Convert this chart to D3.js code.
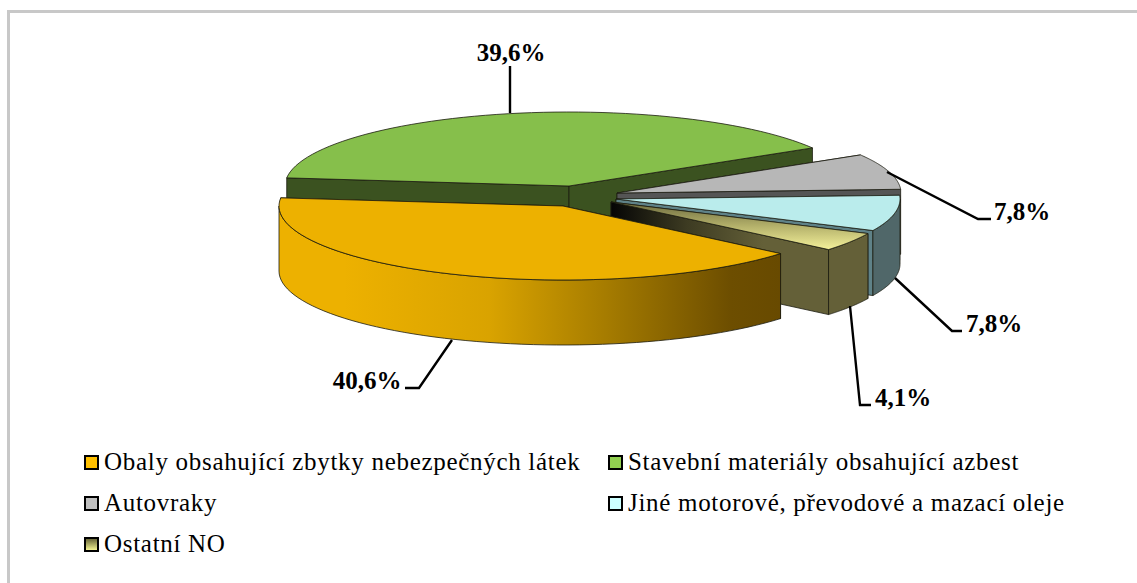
<!DOCTYPE html>
<html>
<head>
<meta charset="UTF-8">
<title>Nebezpečné odpady</title>
<style>
	html, body { margin: 0; background: #fff; }
	svg { display: block; }
	text { font-family: "Liberation Serif", serif; fill: #000; }
	.label { font-size: 25px; font-weight: bold; }
	.legend { font-size: 25px; letter-spacing: 0.7px; }
</style>
</head>
<body>
<script src="https://cdn.jsdelivr.net/npm/d3@7"></script>
<script>
const categories = ["Obaly obsahující zbytky nebezpečných látek", "Stavební materiály obsahující azbest", "Autovraky", "Jiné motorové, převodové a mazací oleje", "Ostatní NO"]
const values = [40.6, 39.6, 7.8, 7.8, 4.1]
const valueLabels = ["40,6%", "39,6%", "7,8%", "7,8%", "4,1%"]

// colours per slice
const topColors = ["#edb100", "#86bf4b", "#b7b7b7", "#baecec", "#f1ee94"]
const wallColors = ["#edb100", "#3b5220", "#595959", "#506769", "#646038"]
const cutColors = ["#6a4b00", "#3b5220", "#555555", "#5f8288", "#646038"]
const legendColors = ["#ffc000", "#92d050", "#bfbfbf", "#ccffff", "#ffff99"]

// exploded slice apexes, top face
const apexX = [563, 569, 617, 616, 611]
const apexY = [206, 186, 193, 199, 202]
const rx = 284, ry = 74, depth = 65

// leader lines and label spots
const leaders = [
	[[452, 340], [419, 388], [405, 388]],
	[[510, 113], [510, 66]],
	[[887, 172], [978, 219], [991, 219]],
	[[895, 278], [952, 331], [962, 331]],
	[[850, 306], [860, 405], [871, 405]]
]
const labelX = [367, 511, 1022, 994, 903]
const labelY = [389, 61, 220, 332, 406]

const legendX = [84, 608, 84, 608, 84]
const legendY = [455, 455, 496, 496, 537]

const width = 1137, height = 583

const svg = d3.select("body").append("svg").attr("width", width).attr("height", height)
const defs = svg.append("defs")

// frame, only top and left show up in the picture
svg.append("path").attr("d", "M8.5,583V11.5H1137").attr("fill", "none").attr("stroke", "#c8c8c8").attr("stroke-width", 3)

function gradient(id, x1, y1, x2, y2, stops) {
	const g = defs.append("linearGradient").attr("id", id)
		.attr("x1", x1).attr("y1", y1).attr("x2", x2).attr("y2", y2)
	stops.forEach(s => g.append("stop").attr("offset", s[0]).attr("stop-color", s[1]))
	return "url(#" + id + ")"
}

// shaded faces
const orangeWall = gradient("orangeWall", 0, 0, 1, 0, [[0, "#edb100"], [0.13, "#edb100"], [0.42, "#d9a300"], [0.65, "#a67c00"], [0.9, "#6d4e00"], [1, "#684a00"]])
const yellowCut = gradient("yellowCut", 0, 0, 1, 0, [[0, "#050505"], [0.35, "#3d3b22"], [0.7, "#646038"], [1, "#646038"]])
const yellowTop = gradient("yellowTop", 0, 0, 0, 1, [[0, "#6c6a3e"], [0.5, "#b3b06a"], [1, "#f4f19a"]])
const legendYellow = gradient("legendYellow", 0, 0, 0, 1, [[0, "#5d5b30"], [1, "#ffff99"]])

const tau = 2 * Math.PI
const pie = d3.pie().sort(null).startAngle(130 * Math.PI / 180).endAngle((130 + 360) * Math.PI / 180)
const slices = pie(values)

const lineGen = d3.line()
const xOff = d3.scaleLinear().domain([-1, 1]).range([-rx, rx])
const yOff = d3.scaleLinear().domain([-1, 1]).range([-ry, ry])

function rimPoint(i, a, dy) {
	return [apexX[i] + xOff(Math.sin(a)), apexY[i] - yOff(Math.cos(a)) + dy]
}
function rim(i, a0, a1, dy) {
	const n = 60
	return d3.range(n + 1).map(k => rimPoint(i, a0 + (a1 - a0) * k / n, dy))
}

// paint back to front, orange goes last since it sits in front
const order = [1, 2, 3, 4, 0]
order.forEach(i => {
	const s = slices[i]
	const g = svg.append("g")
	const apex = [apexX[i], apexY[i]]
	const apexLow = [apexX[i], apexY[i] + depth]
	const edge = "#1c1c10"

	// both cuts, the hidden one ends up under the wall and the top
	const cut = [s.startAngle, s.endAngle]
	cut.forEach(a => {
		g.append("path")
			.attr("d", lineGen([apex, rimPoint(i, a, 0), rimPoint(i, a, depth), apexLow]) + "Z")
			.attr("fill", i == 4 ? yellowCut : cutColors[i])
			.attr("stroke", edge).attr("stroke-width", 0.8)
	})

	// outer wall, front half only
	const shift = s.startAngle >= tau ? tau : 0
	const a0 = Math.max(s.startAngle - shift, Math.PI / 2)
	const a1 = Math.min(s.endAngle - shift, 3 * Math.PI / 2)
	if (a1 > a0) {
		const wall = rim(i, a0, a1, 0).concat(rim(i, a1, a0, depth))
		g.append("path")
			.attr("d", lineGen(wall) + "Z")
			.attr("fill", i == 0 ? orangeWall : wallColors[i])
			.attr("stroke", edge).attr("stroke-width", 0.8)
	}

	// top face
	const face = [apex].concat(rim(i, s.startAngle, s.endAngle, 0))
	g.append("path")
		.attr("d", lineGen(face) + "Z")
		.attr("fill", i == 4 ? yellowTop : topColors[i])
		.attr("stroke", edge).attr("stroke-width", 0.8)
})

// leaders
leaders.forEach(pts => {
	svg.append("path").attr("d", lineGen(pts)).attr("fill", "none")
		.attr("stroke", "#000").attr("stroke-width", 2.4)
})

// value labels
valueLabels.forEach((t, i) => {
	svg.append("text").attr("class", "label")
		.attr("x", labelX[i]).attr("y", labelY[i])
		.attr("text-anchor", "middle").text(t)
})

// legend
categories.forEach((c, i) => {
	svg.append("rect")
		.attr("x", legendX[i] + 1).attr("y", legendY[i] + 1)
		.attr("width", 13).attr("height", 13)
		.attr("fill", i == 4 ? legendYellow : legendColors[i])
		.attr("stroke", "#000").attr("stroke-width", 2)
	svg.append("text").attr("class", "legend")
		.attr("x", legendX[i] + 20).attr("y", legendY[i] + 15)
		.text(c)
})
</script>
</body>
</html>
